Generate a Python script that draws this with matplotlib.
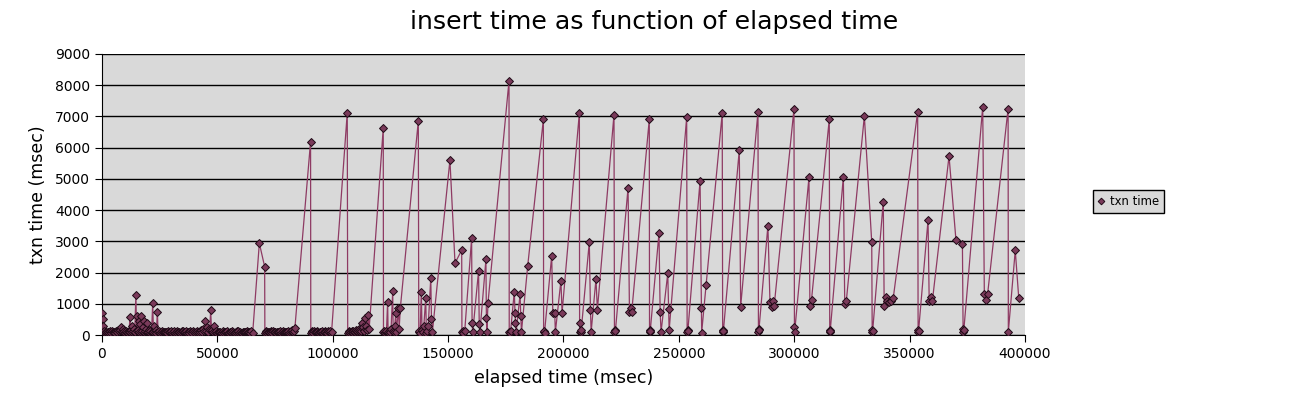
import matplotlib
matplotlib.use("Agg")
import matplotlib.pyplot as plt

# (elapsed msec, txn msec), one list per stretch
seg_start = [(0, 700), (300, 500), (600, 300), (900, 120), (1100, 60), (1300, 80), (1600, 100),
             (1800, 90), (2100, 70), (2400, 110), (2700, 90), (3000, 70), (3300, 120), (3700, 100),
             (4000, 80), (4300, 130), (4600, 100), (5000, 90), (5300, 60), (5700, 80), (6000, 120),
             (6300, 110), (6600, 90), (7000, 150), (7300, 130), (7600, 200), (7900, 160), (8200, 250),
             (8500, 140), (8900, 180), (9200, 100), (9500, 120), (9800, 80), (10200, 90), (10500, 130),
             (10800, 110), (11100, 70), (11500, 140), (11800, 100), (12100, 590), (12300, 90),
             (12600, 160), (12900, 100), (13200, 300), (13500, 120), (13800, 200), (14200, 100),
             (14700, 1280), (15000, 120), (15300, 620), (15600, 150), (15900, 450), (16200, 110),
             (16500, 350), (16800, 90), (17100, 600), (17400, 130), (17800, 250), (18100, 100),
             (18400, 450), (18700, 120), (19000, 180), (19300, 90), (19700, 400), (20000, 110),
             (20300, 150), (20600, 80), (21000, 120), (21500, 100), (22000, 1040), (22300, 90),
             (22600, 300), (22900, 110), (23300, 160), (23600, 80), (24000, 750), (24300, 100),
             (24700, 120), (25100, 70), (25500, 90), (25900, 120), (26300, 110), (26700, 90),
             (27100, 80), (27500, 110), (27900, 100), (28300, 70), (28700, 130), (29100, 100),
             (29500, 90), (29900, 120), (30300, 70), (30700, 100), (31100, 120), (31500, 80),
             (31900, 100), (32300, 130), (32700, 80), (33100, 100), (33500, 110), (33900, 70),
             (34300, 90), (34700, 120), (35100, 130), (35500, 90), (35900, 100), (36300, 120),
             (36700, 70), (37100, 110), (37500, 90), (37900, 60), (38300, 120), (38700, 100),
             (39100, 80), (39500, 130), (39900, 110), (40300, 70), (40700, 100), (41100, 120),
             (41500, 90), (41900, 80), (42300, 130), (42700, 100), (43100, 150), (43500, 110),
             (43900, 200), (44300, 130), (44800, 460), (45100, 120), (45500, 250), (45900, 110),
             (46300, 200), (46700, 150), (47100, 800), (47500, 120), (47900, 150), (48300, 100),
             (48700, 300), (49100, 90), (49500, 120), (49900, 70), (50300, 90), (50700, 110),
             (51100, 110), (51500, 80), (51900, 80), (52300, 120), (52700, 100), (53100, 70),
             (53500, 90), (53900, 110), (54300, 120), (54700, 80), (55100, 70), (55500, 100),
             (55900, 100), (56300, 130), (56700, 110), (57100, 70), (57500, 80), (57900, 110),
             (58300, 90), (58700, 120), (59100, 130), (59500, 80), (59900, 100), (60300, 70),
             (60700, 80), (61100, 110), (61500, 110), (61900, 90), (62300, 90), (62700, 120),
             (63100, 70), (63500, 100), (63900, 100), (64300, 80), (64700, 120), (65300, 50)]

seg_b = [(68200, 2940), (70500, 2190), (70600, 60), (71000, 120), (71300, 90), (71700, 70),
         (72000, 110), (72400, 100), (72700, 80), (73100, 130), (73400, 100), (73800, 70),
         (74100, 120), (74500, 90), (74800, 90), (75200, 110), (75500, 70), (75900, 100),
         (76200, 110), (76600, 80), (76900, 100), (77300, 120), (77600, 80), (78000, 90),
         (78300, 120), (78700, 70), (79000, 90), (79400, 110), (79700, 100), (80100, 80),
         (80400, 110), (80800, 130), (81100, 80), (81500, 100), (81800, 130), (82200, 110),
         (82500, 150), (82800, 100), (83100, 120), (83600, 220)]

seg_c = [(90400, 6190), (90500, 80), (90900, 120), (91200, 100), (91600, 70), (91900, 120),
         (92300, 100), (92600, 90), (93000, 130), (93300, 110), (93700, 70), (94000, 80),
         (94400, 110), (94700, 100), (95100, 90), (95400, 130), (95800, 80), (96100, 90),
         (96500, 120), (96800, 110), (97200, 70), (97500, 80), (97900, 120), (98200, 100),
         (98600, 90), (98900, 120), (99200, 70), (99500, 90)]

seg_d = [(106300, 7120), (106500, 80), (106900, 120), (107200, 110), (107600, 70), (107900, 90),
         (108300, 130), (108600, 120), (109000, 80), (109300, 100), (109700, 110), (110000, 150),
         (110400, 90), (110700, 120), (111100, 170), (111400, 200), (111700, 110), (112000, 150),
         (112300, 130), (112600, 400), (113000, 180), (113300, 250), (113700, 140), (114000, 550),
         (114300, 200), (114600, 300), (115000, 160), (115300, 640), (115800, 200)]

seg_e = [(121900, 6630), (122000, 100), (122300, 130), (122600, 80), (123000, 110), (123300, 120),
         (123800, 1070), (124000, 100), (124400, 80), (124700, 150), (125000, 90), (125300, 200),
         (126000, 1400), (126200, 120), (126600, 90), (126900, 300), (127300, 700), (127600, 100),
         (128500, 860), (128800, 200), (129300, 860)]

seg_f = [(137100, 6860), (137300, 100), (137600, 130), (137900, 80), (138400, 1390), (138700, 150),
         (139100, 90), (139500, 300), (140300, 1175), (140600, 80), (141000, 120), (141400, 300),
         (142500, 1840), (142800, 510), (143200, 100),
         (150800, 5600), (153000, 2300), (155900, 2720), (156000, 100), (156300, 130), (156600, 80),
         (157200, 120), (160200, 3100), (160400, 400), (160700, 100), (163200, 2050), (163500, 350),
         (163800, 100), (166400, 2420), (166600, 530), (166800, 100), (167300, 1035)]

seg_g = [(176400, 8140), (176500, 100), (176800, 80), (177100, 130), (178700, 1390), (179000, 700),
         (179200, 400), (179500, 100), (181200, 1300), (181500, 600), (181800, 100), (184500, 2210),
         (191300, 6910), (191400, 100), (191600, 140), (191800, 80), (194900, 2540), (195400, 700),
         (196200, 700), (196500, 100), (198900, 1740), (199400, 715),
         (206900, 7120), (207000, 100), (207300, 400), (207500, 100), (207700, 150), (211200, 2980),
         (211700, 800), (212000, 100), (214100, 1800), (214700, 800)]

seg_h = [(221900, 7060), (222100, 100), (222300, 150), (222500, 120), (228000, 4720), (228600, 750),
         (229100, 850), (229600, 750), (237200, 6910), (237300, 100), (237500, 150), (237600, 120),
         (241400, 3260), (241900, 750), (242300, 100), (245200, 1970), (245600, 820), (245800, 150),
         (253400, 6970), (253600, 100), (253800, 150), (253900, 120), (259200, 4940), (259800, 860),
         (259900, 80), (261800, 1590), (268800, 7100), (269000, 100), (269200, 150), (269300, 120),
         (276200, 5930), (276800, 910)]

seg_i = [(284300, 7150), (284500, 100), (284600, 180), (284700, 150), (288600, 3500), (289500, 1050),
         (290200, 900), (290900, 1100), (291300, 920), (299900, 7240), (300100, 270), (300200, 100),
         (306400, 5050), (306800, 930), (307500, 1130), (315200, 6910), (315400, 100), (315500, 160),
         (315600, 120), (321300, 5070), (321900, 1000), (322600, 1100), (330400, 7010), (333600, 2970),
         (333800, 100), (333900, 160), (334000, 130), (338600, 4270), (339000, 920), (339700, 1230),
         (340300, 1100), (341200, 1050), (342000, 1100), (342900, 1170)]

seg_j = [(353500, 7150), (353700, 100), (353800, 160), (353900, 130), (358000, 3680), (358500, 1100),
         (359300, 1230), (359900, 1100), (367100, 5730), (370100, 3040), (372900, 2910), (373200, 100),
         (373300, 180), (373500, 150), (381700, 7310), (382400, 1300), (383100, 1130), (383800, 1300),
         (392700, 7250), (392800, 100), (395800, 2710), (397300, 1200)]

points = seg_start + seg_b + seg_c + seg_d + seg_e + seg_f + seg_g + seg_h + seg_i + seg_j
elapsed = [p[0] for p in points]
txn = [p[1] for p in points]

fig = plt.figure(figsize=(13.09, 3.99), dpi=100)
ax = fig.add_axes([0.0779, 0.1604, 0.7051, 0.7043])
ax.set_facecolor("#d9d9d9")

ax.plot(elapsed, txn, color="#8e3a63", linewidth=0.9, marker="D", markersize=4.5,
        markerfacecolor="#7a3a5a", markeredgecolor="#1e0a16", markeredgewidth=0.7,
        label="txn time", zorder=3)

ax.set_xlim(0, 400000)
ax.set_ylim(0, 9000)
ax.set_xticks(range(0, 400001, 50000))
ax.set_yticks(range(0, 9001, 1000))
ax.yaxis.grid(True, color="black", linewidth=1.0)
ax.set_axisbelow(True)
for s in ["top", "right"]:
    ax.spines[s].set_visible(False)
ax.tick_params(direction="out", length=5, labelsize=10, colors="black")

fig.text(0.5, 0.945, "insert time as function of elapsed time", fontsize=18.2,
         ha="center", va="center")
ax.set_xlabel("elapsed time (msec)", fontsize=12.5, labelpad=6)
ax.set_ylabel("txn time (msec)", fontsize=12.5, labelpad=6)

leg = ax.legend(loc="center left", bbox_to_anchor=(1.067, 0.475), fontsize=8.4,
                fancybox=False, framealpha=1, edgecolor="black", handlelength=0.6,
                handletextpad=0.4, borderpad=0.45, markerscale=0.75)
leg.get_frame().set_facecolor("#d9d9d9")
leg.get_lines()[0].set_linestyle("none")

fig.savefig("out.png", dpi=100)
